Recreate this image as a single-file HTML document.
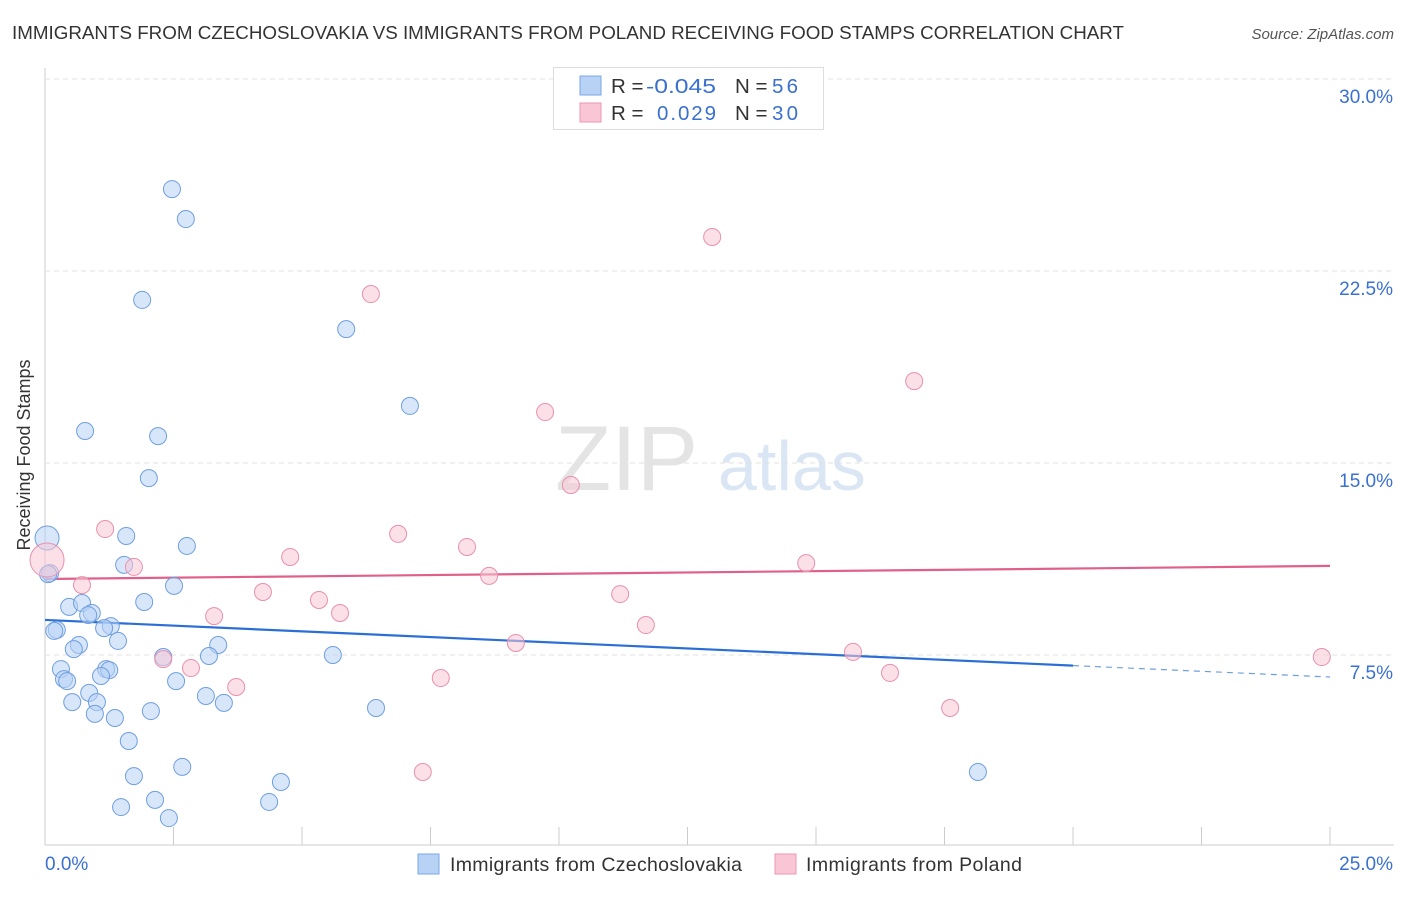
<!DOCTYPE html>
<html><head><meta charset="utf-8"><style>
body{margin:0;background:#fff;font-family:"Liberation Sans",sans-serif;}
svg text{font-family:"Liberation Sans",sans-serif;}
</style></head><body>
<svg id="chart" width="1406" height="892">
<text x="12" y="39" font-size="18" fill="#333" textLength="1112" lengthAdjust="spacingAndGlyphs">IMMIGRANTS FROM CZECHOSLOVAKIA VS IMMIGRANTS FROM POLAND RECEIVING FOOD STAMPS CORRELATION CHART</text>
<text x="1394" y="39" font-size="15" fill="#555" font-style="italic" text-anchor="end">Source: ZipAtlas.com</text>
<text x="30" y="455" font-size="18" fill="#333" text-anchor="middle" transform="rotate(-90 30 455)">Receiving Food Stamps</text>
<g><text x="555" y="490" font-size="92" fill="#e4e4e4" font-family="Liberation Serif">ZIP</text><text x="718" y="490" font-size="70" fill="#dbe6f5">atlas</text></g>
<g id="grid"></g><g id="trend"></g><g id="pts"></g>
<g>
<rect x="553.5" y="67.5" width="270" height="62" fill="#fff" stroke="#ddd"/>
<rect x="580" y="76" width="21" height="19" fill="#b8d2f5" stroke="#7aa7e6"/>
<rect x="580" y="103" width="21" height="19" fill="#f9c6d6" stroke="#eb97b2"/>
<text x="611" y="93" font-size="20.5" fill="#333">R = </text><text x="646" y="93" font-size="20.5" fill="#3a70d0" textLength="70" lengthAdjust="spacingAndGlyphs">-0.045</text>
<text x="735" y="93" font-size="20.5" fill="#333">N = </text><text x="772" y="93" font-size="20.5" fill="#3a70d0" textLength="26">56</text>
<text x="611" y="120" font-size="20.5" fill="#333">R = </text><text x="657" y="120" font-size="20.5" fill="#3a70d0" textLength="59">0.029</text>
<text x="735" y="120" font-size="20.5" fill="#333">N = </text><text x="772" y="120" font-size="20.5" fill="#3a70d0" textLength="26">30</text>
</g>
<g>
<rect x="418" y="854" width="21" height="20" fill="#b8d2f5" stroke="#7aa7e6"/>
<text x="450" y="871" font-size="19.5" fill="#333" textLength="292">Immigrants from Czechoslovakia</text>
<rect x="775" y="854" width="21" height="20" fill="#f9c6d6" stroke="#eb97b2"/>
<text x="806" y="871" font-size="19.5" fill="#333" textLength="216">Immigrants from Poland</text>
</g>
</svg>
<script>
const blueX=[2.47,2.74,1.89,5.86,7.10,0.78,2.20,2.02,0.04,1.58,2.76,1.54,0.10,2.51,1.93,0.47,0.72,0.91,0.84,1.28,0.23,0.18,1.15,1.42,0.66,0.56,3.37,3.19,2.30,5.60,0.31,1.19,1.25,1.09,0.37,0.43,2.55,0.86,3.13,1.01,0.53,3.48,2.06,6.44,0.97,1.36,1.63,2.67,1.73,4.59,18.15,2.14,1.48,4.36,2.41,0.06];
const blueY=[25.70,24.53,21.37,20.23,17.23,16.25,16.05,14.41,12.07,12.15,11.76,11.02,10.70,10.20,9.57,9.38,9.53,9.14,9.06,8.63,8.48,8.44,8.55,8.05,7.89,7.73,7.89,7.46,7.42,7.50,6.95,6.95,6.91,6.68,6.56,6.48,6.48,6.02,5.90,5.66,5.66,5.63,5.31,5.43,5.20,5.04,4.14,3.13,2.77,2.54,2.93,1.84,1.56,1.76,1.13,10.66];
const pinkX=[12.98,6.34,16.91,9.73,10.23,1.17,6.87,8.21,4.77,0.04,1.73,14.81,8.64,0.72,4.24,5.33,5.74,11.19,3.29,11.69,9.16,15.72,2.30,2.84,24.84,16.44,7.70,3.72,17.61,7.35];
const pinkY=[23.83,21.60,18.20,16.99,14.14,12.42,12.23,11.72,11.33,11.21,10.94,11.09,10.59,10.23,9.96,9.65,9.14,9.88,9.02,8.67,7.97,7.62,7.34,6.99,7.42,6.80,6.60,6.25,5.43,2.93];
const yTicks=[7.5,15,22.5,30];
const blueTrend=[8.87,6.64];
const pinkTrend=[10.47,10.98];
const NS="http://www.w3.org/2000/svg";
const sx=v=>45+v*51.4, sy=v=>847-v*25.6;
function mk(t,a,p){const e=document.createElementNS(NS,t);for(const k in a)e.setAttribute(k,a[k]);p.appendChild(e);return e;}
const grid=document.getElementById('grid');
mk('line',{x1:45,y1:845,x2:1394,y2:845,stroke:'#ccc'},grid);
mk('line',{x1:45,y1:68,x2:45,y2:845,stroke:'#ccc'},grid);
for(let i=0;i<=10;i++){mk('line',{x1:sx(i*2.5),y1:827,x2:sx(i*2.5),y2:845,stroke:'#ccc'},grid);}
yTicks.forEach(v=>{
 const l=mk('line',{x1:45,y1:sy(v),x2:1394,y2:sy(v),stroke:'#e2e2e2','stroke-dasharray':'5,4'},grid);
 
 
 const t=mk('text',{x:1393,y:sy(v)+24,'font-size':19,fill:'#3a70d0','text-anchor':'end'},grid);t.textContent=v.toFixed(1)+'%';
 
 
});
let t0=mk('text',{x:45,y:870,'font-size':19,fill:'#3a70d0'},grid);t0.textContent='0.0%';


let t1=mk('text',{x:1393,y:870,'font-size':19,fill:'#3a70d0','text-anchor':'end'},grid);t1.textContent='25.0%';


const pts=document.getElementById('pts');
function dots(X,Y,fill,stroke,name,bigR){X.forEach((x,i)=>{
 const c=mk('circle',{cx:sx(x),cy:sy(Y[i]),r:(i===bigR?(name==='pink-point'?17:12):8.5),fill:fill,'fill-opacity':0.55,stroke:stroke,'stroke-width':1},pts);
 
 
});}
dots(blueX,blueY,'#b8d2f5','#6f9fe0','blue-point',8);
dots(pinkX,pinkY,'#f9c6d6','#e890ad','pink-point',9);
const tr=document.getElementById('trend');
const yb20=blueTrend[0]+(blueTrend[1]-blueTrend[0])*0.8;
let bl=mk('line',{x1:sx(0),y1:sy(blueTrend[0]),x2:sx(20),y2:sy(yb20),stroke:'#2b6fd6','stroke-width':2.2},tr);


let bd=mk('line',{x1:sx(20),y1:sy(yb20),x2:sx(25),y2:sy(blueTrend[1]),stroke:'#6f9fe0','stroke-width':1.2,'stroke-dasharray':'6,5'},tr);


let pl=mk('line',{x1:sx(0),y1:sy(pinkTrend[0]),x2:sx(25),y2:sy(pinkTrend[1]),stroke:'#e0608a','stroke-width':2.2},tr);


</script>
</body></html>
